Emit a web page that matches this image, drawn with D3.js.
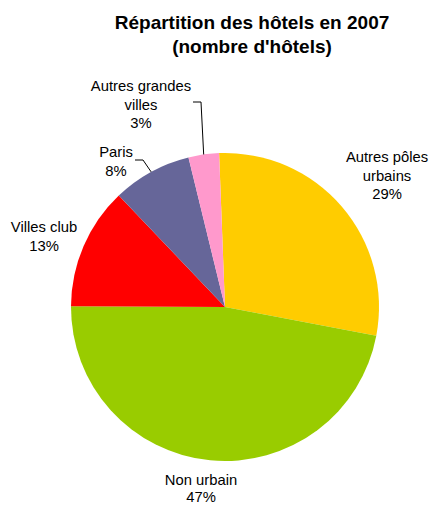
<!DOCTYPE html>
<html><head><meta charset="utf-8">
<script src="https://cdn.jsdelivr.net/npm/d3@7"></script>
<style>body{margin:0;background:#fff}svg{display:block}text{font-family:"Liberation Sans",Arial,sans-serif;fill:#000}</style>
</head><body>
<script>
const categories = ["Autres pôles urbains", "Non urbain", "Villes club", "Paris", "Autres grandes villes"];
const values = [28.6, 47.1, 12.8, 8.3, 3.2];
const percentLabels = ["29%", "47%", "13%", "8%", "3%"];
const labelLines = [["Autres pôles", "urbains"], ["Non urbain"], ["Villes club"], ["Paris"], ["Autres grandes", "villes"]];
const colors = ["#FFCC00", "#99CC00", "#FF0000", "#666699", "#FF99CC"];
const titleLines = ["Répartition des hôtels en 2007", "(nombre d'hôtels)"];

const W = 431, H = 505;
const cx = 225, cy = 307, R = 154;
const startDeg = -2.2;
// label layout: centre x, first baseline y, line step
const layout = [
  {x: 387, y: 162, step: 18.5},
  {x: 201, y: 485, step: 16.5},
  {x: 44,  y: 232, step: 18.5},
  {x: 116, y: 157, step: 18.5},
  {x: 141, y: 91,  step: 18.5}
];
// leader lines: label end point and elbow (layout)
const leaders = {
  4: [[193, 102], [201, 102]],
  3: [[135, 160], [143, 160]]
};

const svg = d3.select("body").append("svg").attr("width", W).attr("height", H);

svg.append("g").selectAll("text").data(titleLines).join("text")
  .attr("x", 252).attr("y", (d, i) => 29 + i * 24)
  .attr("text-anchor", "middle").attr("font-size", 19).attr("font-weight", "bold")
  .text(d => d);

const rad = Math.PI / 180;
const pie = d3.pie().sort(null).value(d => d)
  .startAngle(startDeg * rad).endAngle((360 + startDeg) * rad);
const arcs = pie(values);
const arc = d3.arc().innerRadius(0).outerRadius(R);

const g = svg.append("g").attr("transform", `translate(${cx},${cy})`);
g.selectAll("path").data(arcs).join("path")
  .attr("d", arc).attr("fill", (d, i) => colors[i]);

// leader lines
Object.keys(leaders).forEach(k => {
  const a = arcs[+k];
  const mid = (a.startAngle + a.endAngle) / 2;
  const rim = [cx + R * Math.sin(mid), cy - R * Math.cos(mid)];
  const pts = leaders[k].concat([rim]);
  svg.append("path").attr("d", d3.line()(pts))
    .attr("fill", "none").attr("stroke", "#000").attr("stroke-width", 1);
});

// labels
categories.forEach((c, i) => {
  const lines = labelLines[i].concat([percentLabels[i]]);
  const L = layout[i];
  svg.append("g").selectAll("text").data(lines).join("text")
    .attr("x", L.x).attr("y", (d, j) => L.y + j * L.step)
    .attr("text-anchor", "middle").attr("font-size", 14.8)
    .text(d => d);
});
</script>
</body></html>
